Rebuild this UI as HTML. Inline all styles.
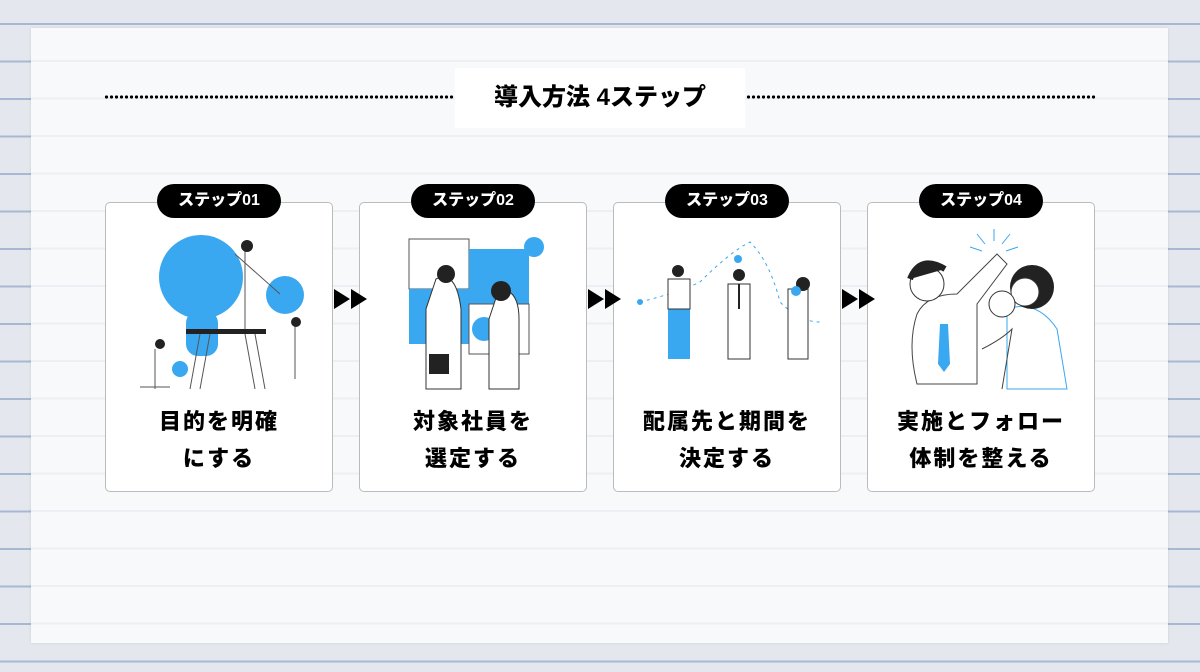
<!DOCTYPE html>
<html><head><meta charset="utf-8"><style>
*{margin:0;padding:0;box-sizing:border-box}
body{width:1200px;height:672px;overflow:hidden;position:relative;font-family:"Liberation Sans","Noto Sans CJK JP",sans-serif;
background:#e4e8ee repeating-linear-gradient(180deg,transparent 0,transparent 23px,#a9b8d2 23px,#a9b8d2 25px,transparent 25px,transparent 37.5px);}
.panel{position:absolute;left:31px;top:28px;width:1137px;height:615px;background:#f8f9fa repeating-linear-gradient(180deg,transparent 0,transparent 32px,#eceff3 32px,#eceff3 34px,transparent 34px,transparent 37.5px);box-shadow:0 0 3px rgba(0,0,0,.1)}
.dots{position:absolute;top:95px;height:4px;background-image:radial-gradient(circle,#000 1.5px,transparent 1.8px);background-size:5px 4px}
.title{position:absolute;left:455px;top:68px;width:290px;height:60px;background:#fff;font-weight:900;font-size:24px;text-align:center;line-height:60px;color:#000}
.card{position:absolute;top:202px;width:228px;height:290px;background:#fff;border:1px solid #bbb;border-radius:5px}
.badge{position:absolute;top:184px;width:124px;height:34px;background:#000;color:#fff;border-radius:17px;font-weight:900;font-size:16px;text-align:center;line-height:34px}
.txt{position:absolute;left:0;width:100%;top:200px;text-align:center;font-weight:900;font-size:22px;line-height:37px;color:#000;letter-spacing:2px}
.ill{position:absolute;left:14px;top:26px}
.arr{position:absolute;top:289px;width:0;height:0;border-top:10px solid transparent;border-bottom:10px solid transparent;border-left:16px solid #000}
</style></head><body>
<div class="panel"></div>
<div class="dots" style="left:104px;width:350px"></div>
<div class="dots" style="left:746px;width:350px"></div>
<div class="title">導入方法 4ステップ</div>

<div class="card" style="left:105px"><svg class="ill" width="200" height="170" viewBox="0 0 200 170">
<circle cx="81" cy="48" r="42" fill="#3aa8f0"/><rect x="66" y="82" width="32" height="45" rx="12" fill="#3aa8f0"/>
<circle cx="165" cy="66" r="19" fill="#3aa8f0"/><circle cx="60" cy="140" r="8" fill="#3aa8f0"/>
<rect x="66" y="100" width="80" height="5" fill="#222"/>
<g stroke="#555" fill="none"><path d="M80 105 L70 160 M90 105 L80 160 M135 105 L145 160 M125 105 L135 160"/>
<path d="M125 20 v80 M115 25 l45 40 M175 90 v60 M35 120 v40 M20 158 h30"/></g>
<circle cx="127" cy="17" r="6" fill="#222"/><circle cx="176" cy="93" r="5" fill="#222"/><circle cx="40" cy="115" r="5" fill="#222"/>
</svg><div class="txt">目的を明確<br>にする</div></div>
<div class="badge" style="left:157px">ステップ01</div>

<div class="card" style="left:359px"><svg class="ill" width="200" height="170" viewBox="0 0 200 170">
<rect x="35" y="10" width="60" height="50" fill="#fff" stroke="#555"/><rect x="95" y="20" width="60" height="55" fill="#3aa8f0"/>
<rect x="35" y="60" width="60" height="55" fill="#3aa8f0"/><rect x="95" y="75" width="60" height="50" fill="#fff" stroke="#555"/>
<circle cx="160" cy="18" r="10" fill="#3aa8f0"/><circle cx="110" cy="100" r="12" fill="#3aa8f0"/>
<path d="M62 50 q20 -10 25 30 v80 h-35 v-80 z" fill="#fff" stroke="#333"/><circle cx="72" cy="45" r="9" fill="#222"/>
<path d="M125 60 q20 0 20 30 v70 h-30 v-70 z" fill="#fff" stroke="#333"/><circle cx="127" cy="62" r="10" fill="#222"/>
<rect x="55" y="125" width="20" height="20" fill="#222"/>
</svg><div class="txt">対象社員を<br>選定する</div></div>
<div class="badge" style="left:411px">ステップ02</div>

<div class="card" style="left:613px"><svg class="ill" width="200" height="170" viewBox="0 0 200 170">
<path d="M12 73 q40 -10 60 -20 q30 -30 50 -40 q20 20 30 60 q20 20 40 20" stroke="#3aa8f0" stroke-dasharray="3 4" fill="none"/>
<circle cx="12" cy="73" r="3" fill="#3aa8f0"/><circle cx="110" cy="30" r="4" fill="#3aa8f0"/>
<rect x="40" y="80" width="22" height="50" fill="#3aa8f0"/><path d="M40 50 h22 v30 h-22z" fill="#fff" stroke="#333"/><circle cx="50" cy="42" r="6" fill="#222"/>
<path d="M100 55 h22 v75 h-22z" fill="#fff" stroke="#333"/><circle cx="111" cy="46" r="6" fill="#222"/><path d="M111 55 v25" stroke="#222" stroke-width="2"/>
<path d="M160 60 h20 v70 h-20z" fill="#fff" stroke="#333"/><circle cx="175" cy="55" r="7" fill="#222"/><circle cx="168" cy="62" r="5" fill="#3aa8f0"/>
</svg><div class="txt">配属先と期間を<br>決定する</div></div>
<div class="badge" style="left:665px">ステップ03</div>

<div class="card" style="left:867px"><svg class="ill" width="200" height="170" viewBox="0 0 200 170">
<g stroke="#3aa8f0"><path d="M112 0 v12 M95 5 l8 10 M128 5 l-8 10 M88 18 l12 4 M136 18 l-12 4"/></g>
<path d="M35 85 q10 -20 40 -20 l40 -40 l10 10 l-30 40 v80 h-60 q-10 -40 0 -70z" fill="#fff" stroke="#444"/>
<path d="M58 95 l8 0 l2 40 l-6 8 l-6 -8z" fill="#3aa8f0"/>
<circle cx="45" cy="55" r="17" fill="#fff" stroke="#333"/><path d="M28 50 q10 -25 35 -10" fill="#222" stroke="#222" stroke-width="6"/>
<path d="M125 80 q30 -10 50 20 l10 60 h-60 z" fill="#fff" stroke="#3aa8f0"/>
<circle cx="150" cy="58" r="22" fill="#222"/><circle cx="143" cy="63" r="14" fill="#fff" stroke="#333"/>
<circle cx="120" cy="75" r="13" fill="#fff" stroke="#333"/><path d="M100 120 q20 -10 30 -20 l-10 60" fill="none" stroke="#444"/>
</svg><div class="txt">実施とフォロー<br>体制を整える</div></div>
<div class="badge" style="left:919px">ステップ04</div>

<div class="arr" style="left:334px"></div><div class="arr" style="left:351px"></div>
<div class="arr" style="left:588px"></div><div class="arr" style="left:605px"></div>
<div class="arr" style="left:842px"></div><div class="arr" style="left:859px"></div>
</body></html>
